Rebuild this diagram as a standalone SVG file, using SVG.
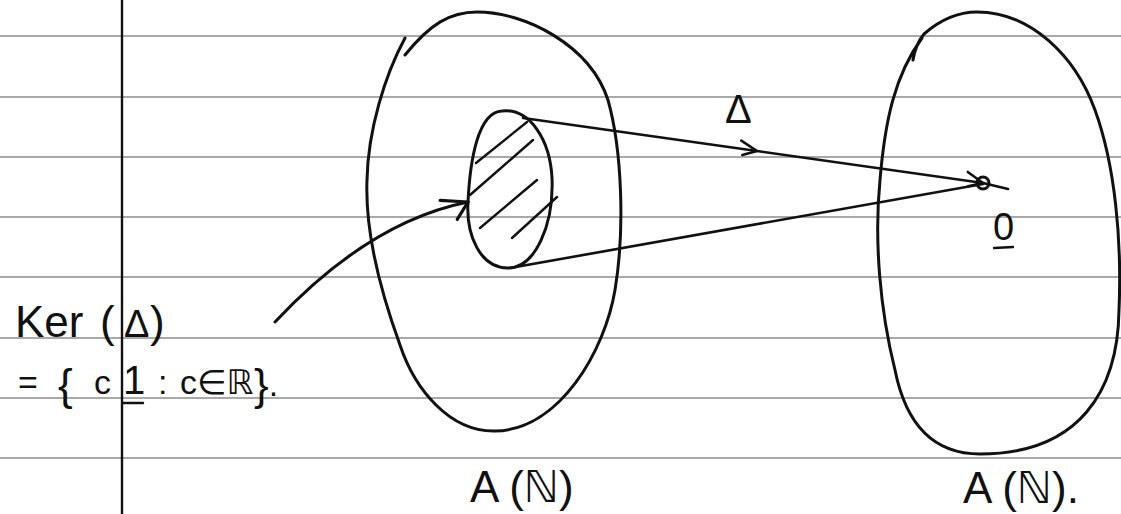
<svg xmlns="http://www.w3.org/2000/svg" width="1121" height="514" viewBox="0 0 1121 514">
<style>
.rule{stroke:#8c8c8c;stroke-width:1.3;fill:none}
.margin{stroke:#111;stroke-width:2.4;fill:none}
.ink{stroke:#111;stroke-width:3;fill:none;stroke-linecap:round;stroke-linejoin:round}
.thin{stroke:#111;stroke-width:2.4;fill:none;stroke-linecap:round}
.txt{font-family:"Liberation Sans","DejaVu Sans",sans-serif;fill:#111}
</style>
<defs>
<marker id="chev" markerUnits="userSpaceOnUse" markerWidth="30" markerHeight="30" viewBox="-20 -15 30 30" refX="0" refY="0" orient="auto">
<path d="M-17,-8 L0,0 L-14,6" stroke="#111" stroke-width="2.6" fill="none" stroke-linecap="round" stroke-linejoin="round"/>
</marker>
<marker id="head" markerUnits="userSpaceOnUse" markerWidth="40" markerHeight="40" viewBox="-30 -20 40 40" refX="0" refY="0" orient="auto">
<path d="M-27,-7 L0,0 L-14,15" stroke="#111" stroke-width="3.2" fill="none" stroke-linecap="round" stroke-linejoin="round"/>
</marker>
</defs>
<rect width="1121" height="514" fill="#fff"/>
<g id="paper">
<line class="rule" x1="0" y1="36" x2="1121" y2="36"/>
<line class="rule" x1="0" y1="97" x2="1121" y2="97"/>
<line class="rule" x1="0" y1="157" x2="1121" y2="157"/>
<line class="rule" x1="0" y1="217" x2="1121" y2="217"/>
<line class="rule" x1="0" y1="277" x2="1121" y2="277"/>
<line class="rule" x1="0" y1="338" x2="1121" y2="338"/>
<line class="rule" x1="0" y1="398" x2="1121" y2="398"/>
<line class="rule" x1="0" y1="458" x2="1121" y2="458"/>
<line class="margin" x1="122" y1="0" x2="122" y2="514"/>
</g>
<g id="domain">
<path class="ink" d="M405,55 C430,24 450,12 477,12 C525,12 590,45 608,100 C622,150 625,230 615,290 C605,350 560,430 495,431 C450,432 415,390 400,345 C380,290 365,230 367,180 C368,130 385,75 405,38"/>
<text class="txt" x="470" y="502" font-size="44">A (ℕ)</text>
</g>
<g id="codomain">
<path class="ink" d="M913,60 C915,48 919,40 924,34 C940,20 958,12 977,12 C1030,12 1075,55 1095,110 C1115,165 1122,240 1119,310 C1118,390 1080,454 980,454 C930,454 905,420 895,370 C880,310 874,240 880,180 C885,120 895,75 922,38"/>
<text class="txt" x="963" y="503" font-size="44">A (ℕ).</text>
</g>
<g id="kernel">
<path class="ink" d="M502,111 C530,108 550,140 552,178 C554,225 535,268 508,268 C480,268 466,235 468,202 C470,160 478,112 502,111 Z"/>
<path class="thin" d="M476,163 L527,122 M470,195 L533,140 M480,228 L537,180 M512,238 L557,197"/>
</g>
<g id="zero">
<circle cx="983" cy="183" r="6" stroke="#111" stroke-width="3" fill="none"/>
<text class="txt" x="993" y="240" font-size="38">0</text>
<line class="thin" x1="994" y1="248" x2="1013" y2="247"/>
</g>
<g id="ker-label">
<text class="txt" y="337" font-size="44"><tspan x="15">Ker</tspan><tspan x="100">(</tspan><tspan x="124" font-size="38">Δ</tspan><tspan x="150">)</tspan></text>
<text class="txt" y="394" font-size="34"><tspan x="18">=</tspan><tspan x="58" y="400" font-size="44">{</tspan><tspan x="94" y="394">c</tspan><tspan x="123" font-size="40">1</tspan><tspan x="158" font-size="34">:</tspan><tspan x="180">c∈ℝ</tspan><tspan x="254" y="400" font-size="44">}</tspan><tspan y="396" font-size="34">.</tspan></text>
<line class="thin" x1="123" y1="403" x2="143" y2="403"/>
</g>
<g id="connectors">
<path class="ink" d="M523,118 L757,151 L983,183 L1008,189" marker-mid="url(#chev)" style="stroke-width:2.6"/>
<path class="ink" d="M510,268 L983,184" style="stroke-width:2.6"/>
<path class="ink" d="M275,322 Q368.5,222 468,202" marker-end="url(#head)"/>
<text class="txt" x="725" y="123" font-size="40">Δ</text>
</g>
</svg>
